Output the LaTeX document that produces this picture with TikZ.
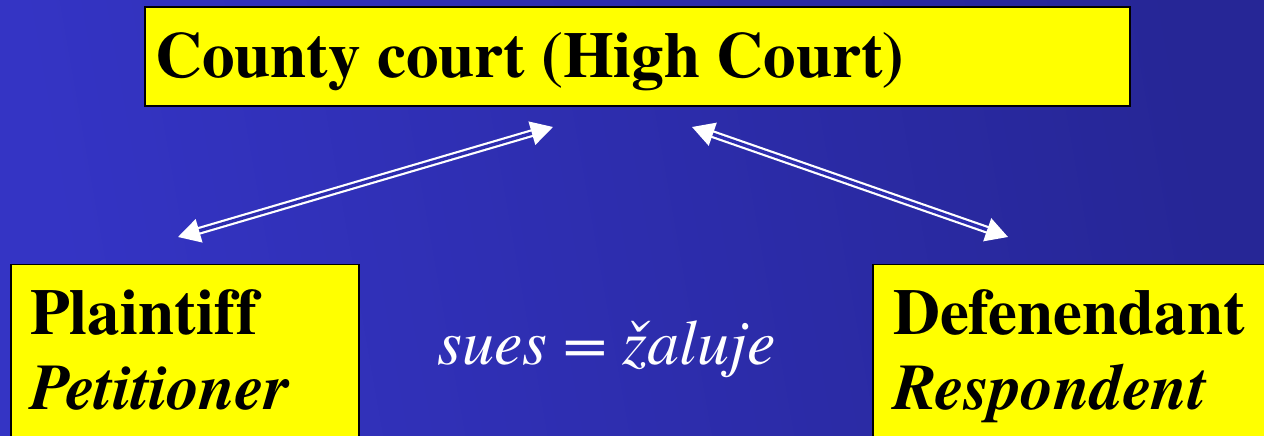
\documentclass[tikz,border=0pt]{standalone}
\usepackage{fontspec}
\newfontfamily\tnr{texgyretermes}[Extension=.otf,UprightFont=*-regular,BoldFont=*-bold,ItalicFont=*-italic,BoldItalicFont=*-bolditalic,Ligatures=NoCommon]
\usetikzlibrary{arrows.meta}
\definecolor{bgL}{RGB}{52,52,196}
\definecolor{bgR}{RGB}{38,38,150}
\definecolor{bgM}{RGB}{45,45,175}
\definecolor{boxY}{RGB}{255,255,0}
\begin{document}
\begin{tikzpicture}[x=1pt,y=1pt,
  ybox/.style={draw=black,line width=1.5pt,fill=boxY,inner sep=0pt,rectangle},
  lbl/.style={anchor=base west,inner sep=0pt,font=\tnr\fontsize{65}{65}\selectfont\bfseries},
  lbli/.style={lbl,font=\tnr\fontsize{65}{65}\selectfont\bfseries\itshape},
  dbl/.style={draw=white,line width=2.2pt,double=bgM,double distance=3.4pt,
     {Triangle[length=22pt,width=24pt,fill=white]}-{Triangle[length=22pt,width=24pt,fill=white]}}]
\useasboundingbox (0,0) rectangle (1264,436);
\shade[left color=bgL,right color=bgR,shading angle=100] (0,0) rectangle (1264,436);
% boxes
\node[ybox,minimum width=985pt,minimum height=99pt] (court) at (637.5,379.5) {};
\node[ybox,minimum width=348pt,minimum height=190pt,anchor=north west] (plbox) at (10,172) {};
\node[ybox,minimum width=400pt,minimum height=190pt,anchor=north west] (dfbox) at (872,172) {};
% texts
\node[lbl] (courtt) at (155,358) {County court (High Court)};
\node[lbl] (pl) at (30,101) {Plaintiff};
\node[lbli] (pet) at (30,26) {Petitioner};
\node[lbl] (df) at (893,101) {Defenendant};
\node[lbli] (resp) at (893,26) {Respondent};
\node[anchor=base west,inner sep=0pt,text=white,font=\tnr\fontsize{64}{64}\selectfont\itshape] (sues) at (437,71) {sues = žaluje};
% arrows
\coordinate (a1) at (178,199);
\coordinate (a2) at (553,309);
\coordinate (b1) at (692,309);
\coordinate (b2) at (1008,199);
\draw[dbl] (a1) -- (a2);
\draw[dbl] (b1) -- (b2);
\end{tikzpicture}
\end{document}
